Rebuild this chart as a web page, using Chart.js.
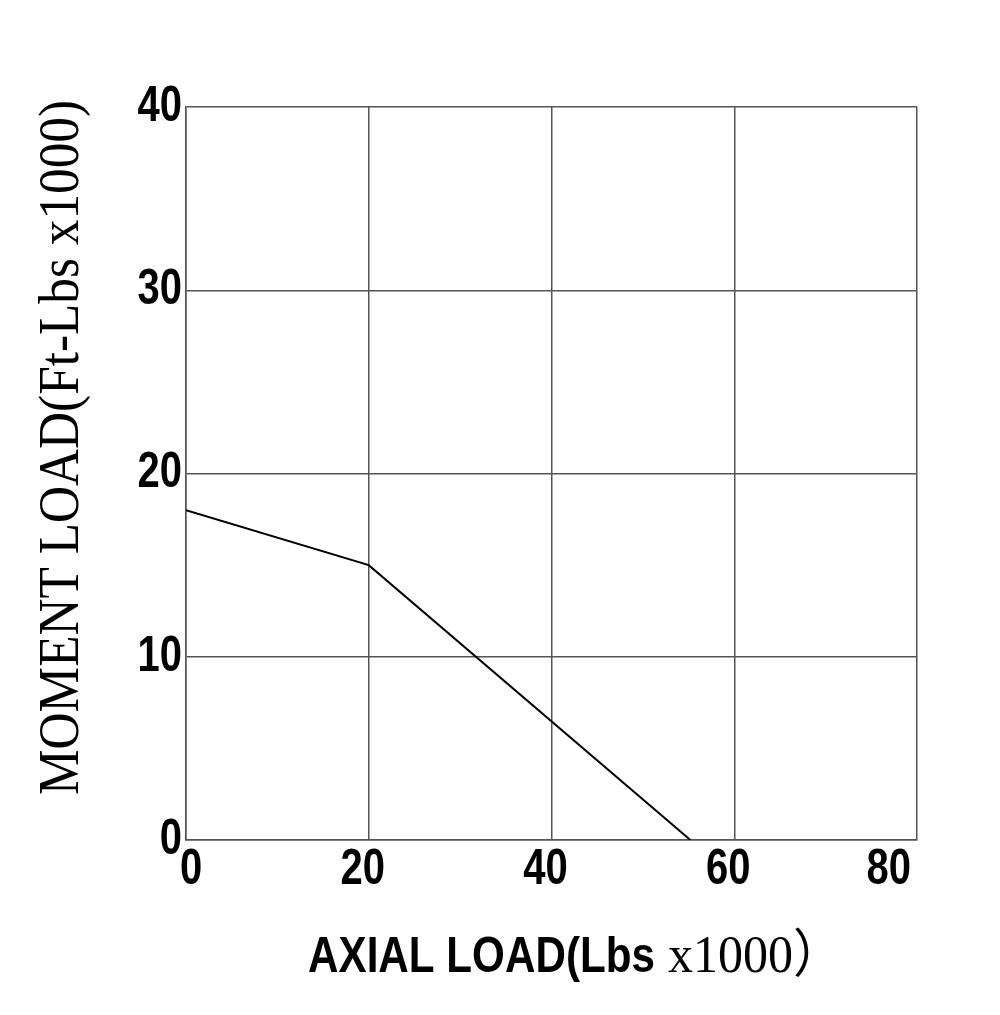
<!DOCTYPE html>
<html>
<head>
<meta charset="utf-8">
<script src="https://cdn.jsdelivr.net/npm/chart.js@4"></script>
<style>
  html, body { margin: 0; padding: 0; background: #fff; }
  #c { display: block; }
</style>
</head>
<body>
<canvas id="c" width="1000" height="1015"></canvas>
<script>
// ---- data ----
const axialLoad = [0, 20, 55.2];          // x, Lbs x1000
const momentLoad = [18, 15, 0];           // y, Ft-Lbs x1000
const xTicks = [0, 20, 40, 60, 80];
const yTicks = [0, 10, 20, 30, 40];
const xTitleBold = 'AXIAL LOAD(Lbs';
const xTitleSerif = 'x1000\uFF09';
const yTitle = 'MOMENT LOAD(Ft-Lbs x1000)';

const points = axialLoad.map((x, i) => ({ x: x, y: momentLoad[i] }));

const tickFont = { family: "'Liberation Sans', Arial, sans-serif", size: 50, weight: 'bold' };
const gridColor = '#555';

// condense tick label glyphs horizontally (narrow bold look)
const condensePlugin = {
  id: 'condense',
  afterUpdate(chart) {
    Object.values(chart.scales).forEach(scale => {
      if (scale._condensed) return;
      scale._condensed = true;
      const orig = scale.drawLabels;
      scale.drawLabels = function (area) {
        const ctx = this.ctx;
        const of = CanvasRenderingContext2D.prototype.fillText;
        ctx.fillText = function (t, x, y, mw) {
          const w = this.measureText(t).width * 0.8;
          return of.call(this, t, x, y, (mw === undefined || mw === null) ? w : Math.min(mw, w));
        };
        try { orig.call(this, area); } finally { delete ctx.fillText; }
      };
    });
  }
};

const titlePlugin = {
  id: 'titles',
  afterDraw(chart) {
    const ctx = chart.ctx;
    ctx.save();
    ctx.fillStyle = '#000';
    ctx.textBaseline = 'alphabetic';
    ctx.textAlign = 'left';
    // x title (mixed fonts)
    ctx.font = "bold 50px 'Liberation Sans', Arial, sans-serif";
    ctx.fillText(xTitleBold, 308, 972, 347);
    ctx.font = "52px 'Liberation Serif', 'Noto Sans CJK SC', serif";
    ctx.fillText(xTitleSerif, 668, 972, 175);
    ctx.restore();
    // y title (rotated)
    ctx.save();
    ctx.fillStyle = '#000';
    ctx.textBaseline = 'alphabetic';
    ctx.textAlign = 'left';
    ctx.translate(78, 795);
    ctx.rotate(-Math.PI / 2);
    ctx.font = "56px 'Liberation Serif', 'DejaVu Serif', serif";
    ctx.fillText(yTitle, 0, 0, 695);
    ctx.restore();
  }
};

new Chart(document.getElementById('c'), {
  type: 'scatter',
  data: {
    datasets: [{
      data: points,
      showLine: true,
      borderColor: '#000',
      borderWidth: 2,
      pointRadius: 0,
      pointHoverRadius: 0,
      fill: false,
      tension: 0
    }]
  },
  options: {
    responsive: false,
    animation: false,
    events: [],
    layout: { padding: { top: 107, right: 83, left: 0, bottom: 0 } },
    plugins: { legend: { display: false }, tooltip: { enabled: false }, title: { display: false } },
    scales: {
      x: {
        type: 'linear',
        min: 0, max: 80,
        afterFit(scale) { scale.height = 175; },
        afterBuildTicks(scale) { scale.ticks = xTicks.map(v => ({ value: v })); },
        grid: { color: gridColor, lineWidth: 1.5, drawTicks: false },
        border: { display: true, color: gridColor, width: 1.5 },
        ticks: { font: tickFont, color: '#000', padding: 0, align: 'inner', labelOffset: -6, maxRotation: 0, autoSkip: false }
      },
      y: {
        type: 'linear',
        min: 0, max: 40,
        afterFit(scale) { scale.width = 186; },
        afterBuildTicks(scale) { scale.ticks = yTicks.map(v => ({ value: v })); },
        grid: { color: gridColor, lineWidth: 1.5, drawTicks: false },
        border: { display: true, color: gridColor, width: 1.5 },
        ticks: { font: tickFont, color: '#000', padding: 4, autoSkip: false }
      }
    }
  },
  plugins: [condensePlugin, titlePlugin]
});
</script>
</body>
</html>
